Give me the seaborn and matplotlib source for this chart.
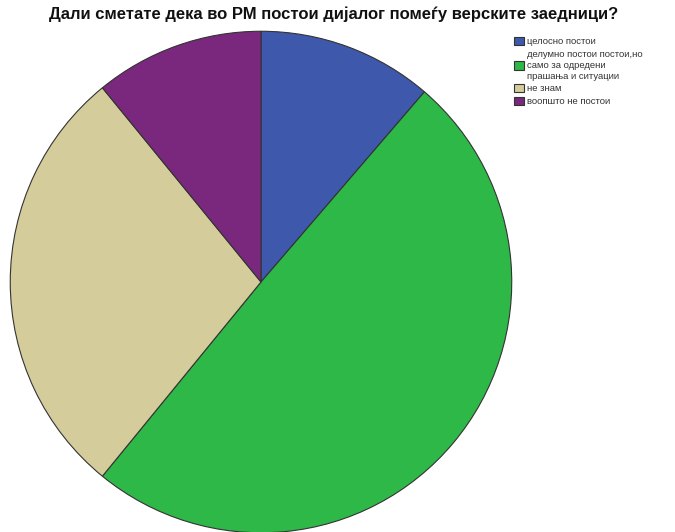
import matplotlib
matplotlib.use("Agg")
import matplotlib.pyplot as plt
import seaborn as sns

categories = ["целосно постои",
              "делумно постои постои,но\nсамо за одредени\nпрашања и ситуации",
              "не знам",
              "воопшто не постои"]
values = [11.3, 49.6, 28.2, 10.9]
colors = ["#3E58AC", "#2EB848", "#D4CC9A", "#79287D"]
title = "Дали сметате дека во РМ постои дијалог помеѓу верските заедници?"

sns.set_theme(style="white")
plt.rcParams['font.family'] = ['Liberation Sans', 'DejaVu Sans']

W, H = 675, 532
fig = plt.figure(figsize=(W/100, H/100), dpi=100)
cx, cy, r = 261, 282, 252
ax = fig.add_axes([(cx - r)/W, (H - cy - r)/H, 2*r/W, 2*r/H])
wedges, _ = ax.pie(values, colors=colors, startangle=90, counterclock=False,
                   radius=1, wedgeprops=dict(edgecolor="#333333", linewidth=0.8))
ax.set_xlim(-1.005, 1.005)
ax.set_ylim(-1.005, 1.005)
ax.set_axis_off()

fig.text(334/W, 1 - 14/H, title, ha="center", va="center",
         fontsize=12, fontweight="bold", color="#111111")

leg = fig.legend(wedges, categories, loc="upper left",
                 bbox_to_anchor=(514/W, 1 - 37/H), frameon=False,
                 fontsize=6.8, handlelength=1.1, handleheight=0.95,
                 handletextpad=0.3, labelspacing=0.35, borderaxespad=0,
                 borderpad=0)
for t in leg.get_texts():
    t.set_color("#333333")
    t.set_linespacing(1.3)

fig.savefig("out.png", dpi=100)
